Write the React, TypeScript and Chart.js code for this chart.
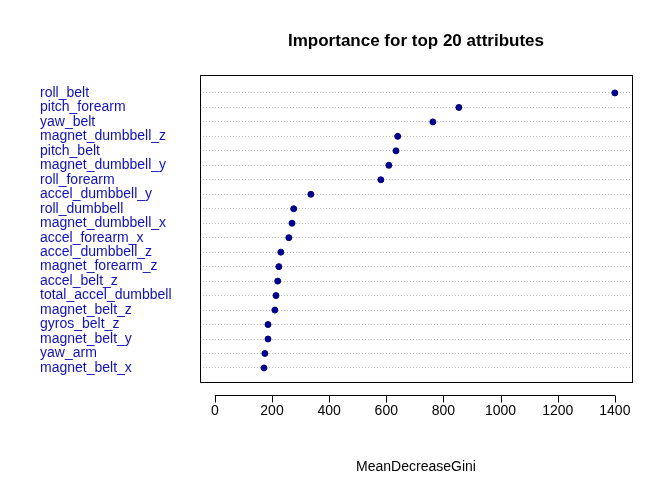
import { useEffect, useRef } from 'react';
import Chart from 'chart.js/auto';

const attributes = [
  'roll_belt', 'pitch_forearm', 'yaw_belt', 'magnet_dumbbell_z', 'pitch_belt',
  'magnet_dumbbell_y', 'roll_forearm', 'accel_dumbbell_y', 'roll_dumbbell', 'magnet_dumbbell_x',
  'accel_forearm_x', 'accel_dumbbell_z', 'magnet_forearm_z', 'accel_belt_z', 'total_accel_dumbbell',
  'magnet_belt_z', 'gyros_belt_z', 'magnet_belt_y', 'yaw_arm', 'magnet_belt_x',
];
const meanDecreaseGini = [
  1400, 854, 763, 640, 634, 609, 581, 336, 276, 270,
  259, 231, 224, 220, 214, 210, 186, 186, 175, 172,
];
const xTicks = [0, 200, 400, 600, 800, 1000, 1200, 1400];

const FONT = '"Liberation Sans", Arial, sans-serif';

const rStyle = {
  id: 'rStyle',
  afterDraw(chart: any) {
    const { ctx, chartArea: a, scales } = chart;
    ctx.save();
    ctx.strokeStyle = '#000';
    ctx.lineWidth = 1;
    ctx.strokeRect(a.left + 0.5, a.top + 0.5, a.right - a.left, a.bottom - a.top);
    // offset x axis line like base R
    const x = scales.x;
    const y0 = a.bottom + 13.5;
    ctx.beginPath();
    ctx.moveTo(x.getPixelForValue(xTicks[0]), y0);
    ctx.lineTo(x.getPixelForValue(xTicks[xTicks.length - 1]), y0);
    xTicks.forEach((t) => {
      const px = Math.round(x.getPixelForValue(t)) + 0.5;
      ctx.moveTo(px, y0);
      ctx.lineTo(px, y0 + 7);
    });
    ctx.stroke();
    ctx.fillStyle = '#000';
    ctx.font = `bold 17px ${FONT}`;
    ctx.textAlign = 'center';
    ctx.textBaseline = 'middle';
    ctx.fillText('Importance for top 20 attributes', (a.left + a.right) / 2, 41);
    ctx.restore();
  },
};

export default function App() {
  const canvasRef = useRef<HTMLCanvasElement | null>(null);

  useEffect(() => {
    if (!canvasRef.current) return;
    const chart = new Chart(canvasRef.current, {
      type: 'scatter',
      data: {
        datasets: [{
          data: meanDecreaseGini.map((v, i) => ({ x: v, y: i })),
          backgroundColor: '#00008B',
          borderColor: '#00008B',
          pointRadius: 3,
        }],
      },
      options: {
        animation: false,
        responsive: false,
        layout: { padding: { left: 40, right: 40, top: 75, bottom: 0 } },
        plugins: { legend: { display: false }, tooltip: { enabled: false }, title: { display: false } },
        scales: {
          x: {
            type: 'linear',
            min: -52,
            max: 1460,
            afterBuildTicks: (s: any) => { s.ticks = xTicks.map((v) => ({ value: v })); },
            afterFit: (s: any) => { s.height = 98; },
            grid: { display: false },
            border: { display: false },
            ticks: {
              color: '#000', font: { family: FONT, size: 14 }, padding: 13,
              callback: (v: any) => String(v),
            },
            title: {
              display: true, text: 'MeanDecreaseGini', color: '#000',
              font: { family: FONT, size: 14 }, padding: { top: 19 },
            },
          },
          y: {
            type: 'linear',
            reverse: true,
            min: -1.24,
            max: 19.97,
            afterBuildTicks: (s: any) => { s.ticks = attributes.map((_, i) => ({ value: i })); },
            afterFit: (s: any) => { s.width = 160; },
            grid: { color: '#bbb', drawTicks: false, lineWidth: 1 },
            border: { display: false, dash: [1, 2] },
            ticks: {
              autoSkip: false,
              crossAlign: 'far',
              color: '#1010B8',
              font: { family: FONT, size: 14 },
              callback: (v: any) => attributes[v] ?? '',
            },
          },
        },
      },
      plugins: [rStyle],
    });
    return () => chart.destroy();
  }, []);

  return (
    <canvas ref={canvasRef} width={672} height={480}
      style={{ position: 'absolute', left: 0, top: 0, width: 672, height: 480 }} />
  );
}
